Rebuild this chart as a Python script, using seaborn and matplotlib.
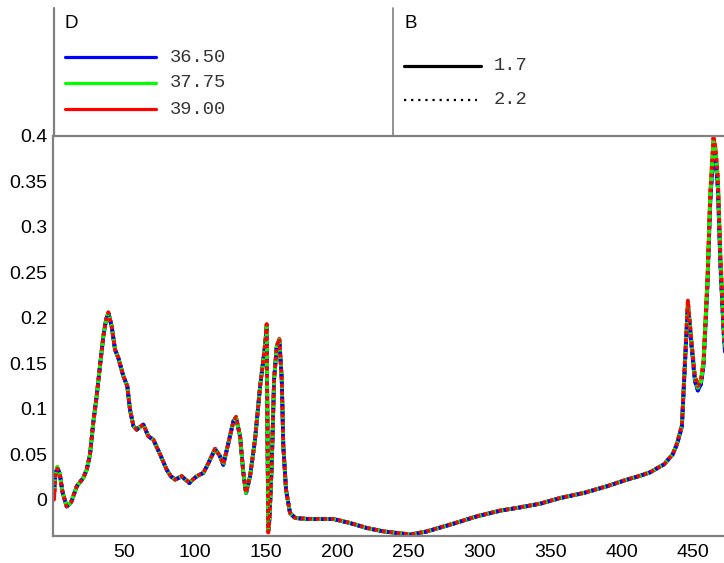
import matplotlib
matplotlib.use("Agg")
import matplotlib.pyplot as plt
from matplotlib.lines import Line2D
import seaborn as sns
import pandas as pd

# ---------------- data ----------------
x_vals = [1, 2, 3.3, 5, 7, 9.9, 13, 17, 21.6, 24, 26.3, 28.6, 31, 33.3, 35.7, 37.6,
          39.2, 41.5, 43.9, 46.2, 49.7, 52.5, 54.4, 56.8, 59.1, 61.5, 63.8, 67.3,
          70.8, 75.5, 80.2, 83, 86.1, 90.8, 93.5, 96.1, 98.5, 101.3, 106, 109.5,
          114.2, 117.7, 120, 123.6, 127.1, 129, 131.8, 134.1, 136, 138.8, 142.3,
          145.9, 149.4, 150.5, 151.6, 152.5, 154.1, 155.7, 157.6, 159.4, 161.1,
          162.2, 164.1, 166.9, 170.5, 180, 197.4, 209.1, 220.9, 232.6, 246.6,
          251.3, 263.1, 279.5, 298.2, 314.6, 328.7, 342.8, 356.8, 373.2, 389.6,
          403.7, 411.9, 420, 430, 436, 439, 442.4, 444.5, 446.6, 449.4, 451.5,
          453.6, 455.8, 457.6, 460.4, 462.3, 464.6, 466, 467.7, 469.4, 471.7, 473]

y_green = [0.010, 0.028, 0.036, 0.029, 0.008, -0.0074, -0.003, 0.0147, 0.024, 0.033,
           0.0496, 0.085, 0.114, 0.147, 0.180, 0.198, 0.2056, 0.191, 0.165, 0.156,
           0.136, 0.125, 0.099, 0.081, 0.077, 0.080, 0.0826, 0.0697, 0.066, 0.050,
           0.033, 0.026, 0.022, 0.0257, 0.022, 0.0184, 0.022, 0.0257, 0.0294, 0.040,
           0.0558, 0.0477, 0.0385, 0.0624, 0.0863, 0.090, 0.0697, 0.0294, 0.0073,
           0.0257, 0.066, 0.125, 0.170, 0.191, -0.034, -0.020, 0.040, 0.132, 0.169,
           0.176, 0.132, 0.0587, 0.011, -0.0147, -0.0202, -0.0213, -0.0213, -0.0257,
           -0.0312, -0.0349, -0.0374, -0.0385, -0.0349, -0.0275, -0.0184, -0.0121,
           -0.0085, -0.0044, 0.0018, 0.0073, 0.0147, 0.022, 0.0257, 0.030, 0.039,
           0.050, 0.062, 0.081, 0.150, 0.216, 0.168, 0.134, 0.123, 0.130, 0.150,
           0.241, 0.332, 0.393, 0.382, 0.349, 0.266, 0.189, 0.160]

y_blue = [0.012, 0.028, 0.035, 0.029, 0.008, -0.0076, -0.003, 0.0145, 0.024, 0.033,
          0.0494, 0.085, 0.114, 0.147, 0.180, 0.198, 0.2050, 0.191, 0.165, 0.156,
          0.136, 0.125, 0.099, 0.081, 0.077, 0.080, 0.0824, 0.0697, 0.066, 0.050,
          0.033, 0.026, 0.022, 0.0255, 0.022, 0.0182, 0.022, 0.0255, 0.0294, 0.040,
          0.0555, 0.0477, 0.0383, 0.0624, 0.0863, 0.089, 0.0697, 0.0294, 0.0070,
          0.0257, 0.066, 0.125, 0.169, 0.189, -0.034, -0.020, 0.040, 0.132, 0.169,
          0.175, 0.132, 0.0587, 0.011, -0.0147, -0.0203, -0.0214, -0.0214, -0.0258,
          -0.0313, -0.0350, -0.0376, -0.0387, -0.0351, -0.0276, -0.0185, -0.0122,
          -0.0086, -0.0045, 0.0017, 0.0072, 0.0146, 0.0219, 0.0256, 0.030, 0.039,
          0.050, 0.061, 0.080, 0.147, 0.212, 0.165, 0.131, 0.120, 0.127, 0.147,
          0.236, 0.325, 0.385, 0.375, 0.342, 0.260, 0.184, 0.156]

y_red = [0.000, 0.026, 0.034, 0.029, 0.008, -0.0072, -0.003, 0.0148, 0.024, 0.033,
         0.0498, 0.085, 0.114, 0.147, 0.180, 0.198, 0.2060, 0.191, 0.165, 0.156,
         0.136, 0.125, 0.099, 0.081, 0.077, 0.080, 0.0828, 0.0697, 0.066, 0.050,
         0.033, 0.026, 0.022, 0.0259, 0.022, 0.0186, 0.022, 0.0259, 0.0294, 0.040,
         0.0560, 0.0477, 0.0387, 0.0624, 0.0863, 0.091, 0.0697, 0.0294, 0.0076,
         0.0257, 0.066, 0.125, 0.171, 0.193, -0.036, -0.021, 0.040, 0.132, 0.169,
         0.177, 0.132, 0.0587, 0.011, -0.0147, -0.0201, -0.0212, -0.0212, -0.0256,
         -0.0311, -0.0348, -0.0373, -0.0384, -0.0348, -0.0274, -0.0183, -0.0120,
         -0.0084, -0.0043, 0.0019, 0.0074, 0.0148, 0.0221, 0.0258, 0.030, 0.039,
         0.050, 0.062, 0.082, 0.152, 0.219, 0.170, 0.136, 0.125, 0.132, 0.152,
         0.244, 0.336, 0.398, 0.387, 0.354, 0.270, 0.192, 0.162]

d_levels = ["36.50", "37.75", "39.00"]
b_levels = ["1.7", "2.2"]
d_colors = {"36.50": "#0000ff", "37.75": "#00ff00", "39.00": "#ff0000"}
x_ticks = [50, 100, 150, 200, 250, 300, 350, 400, 450]
y_ticks = [0, 0.05, 0.1, 0.15, 0.2, 0.25, 0.3, 0.35, 0.4]
y_tick_labels = ["0", "0.05", "0.1", "0.15", "0.2", "0.25", "0.3", "0.35", "0.4"]

series_y = {"36.50": y_blue, "37.75": y_green, "39.00": y_red}
rows = []
for d in d_levels:
    for b in b_levels:
        for xv, yv in zip(x_vals, series_y[d]):
            rows.append({"x": xv, "y": yv, "D": d, "B": b})
df = pd.DataFrame(rows)

# ---------------- figure ----------------
sns.set_style("white")
plt.rcParams["font.family"] = ["Liberation Sans", "DejaVu Sans"]

W, H = 724, 563
fig = plt.figure(figsize=(W / 100, H / 100), dpi=100)
ax = fig.add_axes([52.6 / W, 1 - 536 / H, (W - 52.6) / W, (536 - 136) / H])

# solid lines first (green on top), then dotted lines (red on top)
solid_order = ["36.50", "39.00", "37.75"]
dotted_order = ["36.50", "37.75", "39.00"]
for d in solid_order:
    sub = df[(df["D"] == d) & (df["B"] == "1.7")]
    sns.lineplot(data=sub, x="x", y="y", color=d_colors[d], lw=2.7,
                 ax=ax, legend=False, estimator=None, sort=False)
for d in dotted_order:
    sub = df[(df["D"] == d) & (df["B"] == "2.2")]
    sns.lineplot(data=sub, x="x", y="y", color=d_colors[d], lw=2.7,
                 linestyle=(0, (1, 1)), ax=ax, legend=False, estimator=None,
                 sort=False)

ax.set_xlim(0, 472)
ax.set_ylim(-0.04, 0.4)
ax.set_xticks(x_ticks)
ax.set_yticks(y_ticks)
ax.set_yticklabels(y_tick_labels)
ax.set_xlabel("")
ax.set_ylabel("")
ax.tick_params(direction="in", length=5, width=1, color="#222222",
               labelsize=14, labelcolor="#000000")
ax.tick_params(axis="x", pad=6)
ax.tick_params(axis="y", pad=4)
for side in ["left", "bottom", "top"]:
    ax.spines[side].set_visible(True)
    ax.spines[side].set_color("#808080")
    ax.spines[side].set_linewidth(1.6)
ax.spines["right"].set_visible(False)


def fx(px):
    return px / W


def fy(py):
    return 1 - py / H


# legend frame lines
fig.add_artist(Line2D([fx(53.5), fx(53.5)], [fy(8), fy(136)], color="#808080", lw=1.6))
fig.add_artist(Line2D([fx(392.7), fx(392.7)], [fy(8), fy(136)], color="#808080", lw=1.2))

mono = ["Liberation Mono", "DejaVu Sans Mono"]
# D legend
fig.text(fx(65), fy(23), "D", fontsize=13.5, ha="left", va="center", color="#000000")
for d, py in zip(d_levels, [57.3, 82.7, 109.3]):
    fig.add_artist(Line2D([fx(65), fx(156)], [fy(py), fy(py)], color=d_colors[d], lw=2.3))
    fig.text(fx(170), fy(py), d, fontsize=13.5, family=mono, ha="left", va="center",
             color="#333333")

# B legend
fig.text(fx(404), fy(23), "B", fontsize=13.5, ha="left", va="center", color="#000000")
fig.add_artist(Line2D([fx(404), fx(481)], [fy(66), fy(66)], color="black", lw=2.3))
fig.add_artist(Line2D([fx(404), fx(477)], [fy(100), fy(100)], color="black", lw=1.6,
                      linestyle=(0, (1, 2.2))))
fig.text(fx(494), fy(66), b_levels[0], fontsize=13.5, family=mono, ha="left", va="center",
         color="#333333")
fig.text(fx(494), fy(100), b_levels[1], fontsize=13.5, family=mono, ha="left", va="center",
         color="#333333")

fig.savefig("out.png", dpi=100)
